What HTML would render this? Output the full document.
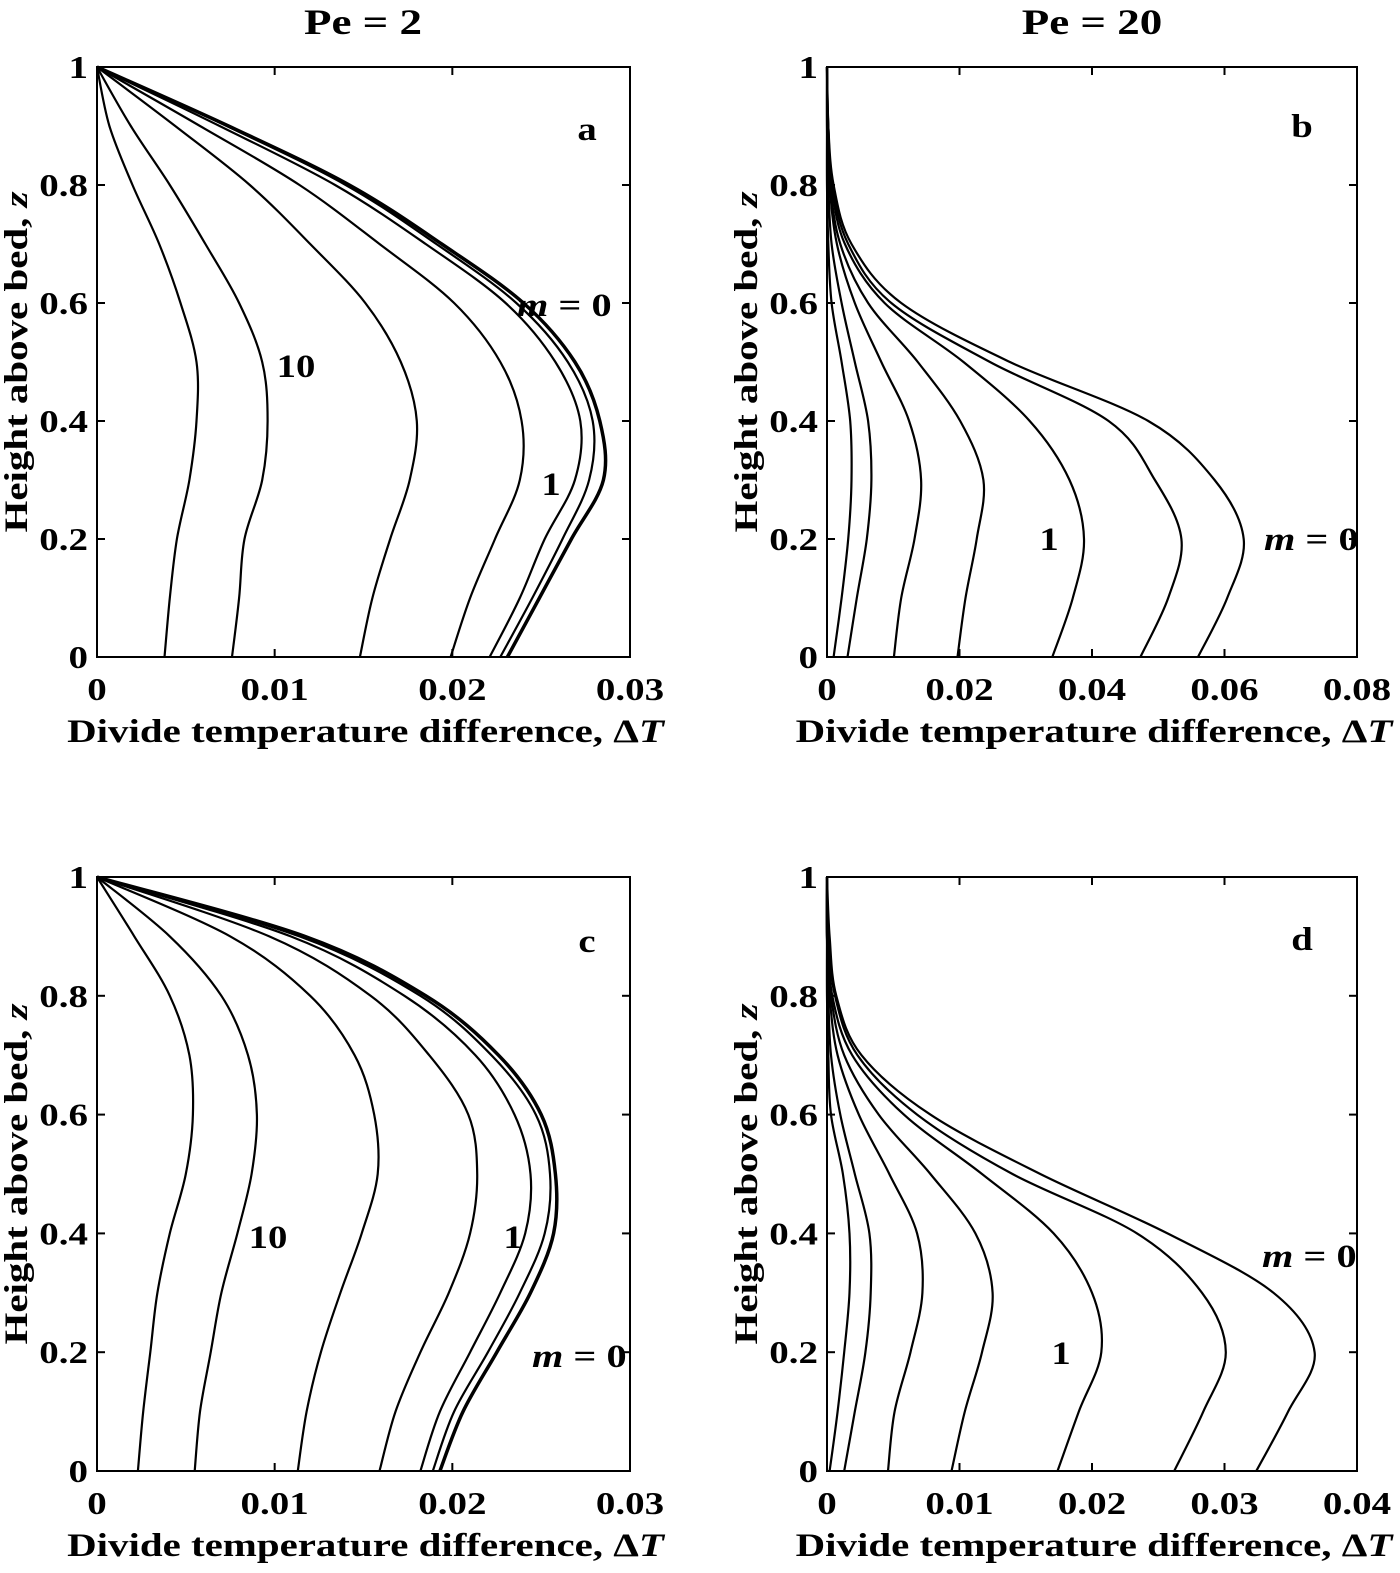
<!DOCTYPE html>
<html><head><meta charset="utf-8">
<style>
html,body{margin:0;padding:0;background:#fff;}
svg{display:block;font-family:"Liberation Serif",serif;font-weight:bold;}
</style></head>
<body>
<svg id="fig" width="1400" height="1573" viewBox="0 0 1400 1573" xmlns="http://www.w3.org/2000/svg">
<text transform="translate(363 34) scale(1.25 1)" font-size="36" text-anchor="middle">Pe = 2</text>
<text transform="translate(1092 34) scale(1.25 1)" font-size="36" text-anchor="middle">Pe = 20</text>
</svg>
<script>
const zLevels = [0,0.1,0.2,0.3,0.4,0.5,0.6,0.7,0.8,0.9,1.0];

const curvesA = [
 [0.0038,0.0041,0.0045,0.0052,0.0056,0.0056,0.0047,0.0035,0.0020,0.0007,0],
 [0.0076,0.0080,0.0083,0.0093,0.0096,0.0093,0.0080,0.0061,0.0041,0.0019,0],
 [0.0148,0.0155,0.0165,0.0176,0.0180,0.0171,0.0151,0.0120,0.0086,0.0044,0],
 [0.0199,0.0210,0.0224,0.0238,0.0239,0.0227,0.0201,0.0159,0.0114,0.0058,0],
 [0.0221,0.0238,0.0252,0.0269,0.0272,0.0258,0.0230,0.0185,0.0134,0.0069,0],
 [0.0227,0.0245,0.0262,0.0277,0.0279,0.0265,0.0236,0.0191,0.0140,0.0073,0],
 [0.0231,0.0249,0.0267,0.0285,0.0283,0.0269,0.0240,0.0194,0.0142,0.0074,0]
];
const curvesB = [
 [0.0010,0.0022,0.0032,0.0037,0.0035,0.0022,0.0007,0.0002,0,0,0],
 [0.0031,0.0045,0.0060,0.0067,0.0062,0.0042,0.0022,0.0007,0.0002,0,0],
 [0.0101,0.0112,0.0132,0.0142,0.0124,0.0082,0.0042,0.0015,0.0004,0.0001,0],
 [0.0197,0.0209,0.0226,0.0236,0.0201,0.0137,0.0062,0.0020,0.0005,0.0001,0],
 [0.0340,0.0371,0.0388,0.0366,0.0306,0.0206,0.0087,0.0027,0.0007,0.0002,0],
 [0.0473,0.0515,0.0535,0.0495,0.0425,0.0246,0.0097,0.0032,0.0008,0.0002,0],
 [0.0560,0.0604,0.0629,0.0585,0.0485,0.0276,0.0112,0.0037,0.0010,0.0002,0]
];
const curvesC = [
 [0.0023,0.0026,0.0030,0.0034,0.0041,0.0050,0.0054,0.0052,0.0041,0.0021,0],
 [0.0055,0.0058,0.0064,0.0070,0.0079,0.0087,0.0090,0.0085,0.0070,0.0041,0],
 [0.0113,0.0118,0.0126,0.0137,0.0149,0.0158,0.0156,0.0145,0.0120,0.0075,0],
 [0.0159,0.0168,0.0182,0.0198,0.0210,0.0214,0.0209,0.0187,0.0154,0.0097,0],
 [0.0182,0.0193,0.0210,0.0227,0.0241,0.0244,0.0235,0.0213,0.0173,0.0109,0],
 [0.0189,0.0201,0.0220,0.0238,0.0252,0.0255,0.0247,0.0222,0.0182,0.0114,0],
 [0.0193,0.0206,0.0225,0.0244,0.0257,0.0258,0.0250,0.0226,0.0185,0.0117,0]
];
const curvesD = [
 [0.0002,0.0008,0.0013,0.0017,0.0017,0.0012,0.0003,0.0001,0,0,0],
 [0.0013,0.0021,0.0029,0.0033,0.0032,0.0021,0.0010,0.0003,0.0001,0,0],
 [0.0046,0.0051,0.0063,0.0072,0.0068,0.0047,0.0024,0.0008,0.0002,0,0],
 [0.0094,0.0104,0.0117,0.0125,0.0112,0.0078,0.0039,0.0013,0.0003,0,0],
 [0.0174,0.0190,0.0207,0.0200,0.0171,0.0117,0.0058,0.0019,0.0004,0.0001,0],
 [0.0262,0.0284,0.0301,0.0283,0.0234,0.0140,0.0068,0.0023,0.0006,0.0001,0],
 [0.0324,0.0348,0.0368,0.0337,0.0257,0.0161,0.0078,0.0026,0.0007,0.0002,0]
];
const xTicksA = [0,0.01,0.02,0.03], xLabelsA = ["0","0.01","0.02","0.03"];
const xTicksB = [0,0.02,0.04,0.06,0.08], xLabelsB = ["0","0.02","0.04","0.06","0.08"];
const xTicksD = [0,0.01,0.02,0.03,0.04], xLabelsD = ["0","0.01","0.02","0.03","0.04"];
const yTicks = [0,0.2,0.4,0.6,0.8,1], yLabels = ["0","0.2","0.4","0.6","0.8","1"];

const NS="http://www.w3.org/2000/svg";
const svg=document.getElementById('fig');
function mk(tag,attrs,parent){const e=document.createElementNS(NS,tag);for(const k in attrs)e.setAttribute(k,attrs[k]);(parent||svg).appendChild(e);return e;}
function txt(parent,x,y,size,anchor,sx,rot){
  return mk('text',{x:0,y:0,'font-size':size,'text-anchor':anchor,transform:'translate('+x+' '+y+') rotate('+(rot||0)+') scale('+sx+' 1.05)'},parent);
}

const panels=[
 {id:'a',L:97,R:630,T:67,B:657,xmax:0.03,curves:curvesA,xt:xTicksA,xl:xLabelsA,
  labels:[['a',587,140],['10',296,377],['1',551,495]],m0:[517,316]},
 {id:'b',L:827,R:1357,T:67,B:657,xmax:0.08,curves:curvesB,xt:xTicksB,xl:xLabelsB,
  labels:[['b',1302,137],['1',1049,550]],m0:[1264,550]},
 {id:'c',L:97,R:630,T:877,B:1471,xmax:0.03,curves:curvesC,xt:xTicksA,xl:xLabelsA,
  labels:[['c',587,952],['10',268,1248],['1',513,1248]],m0:[532,1367]},
 {id:'d',L:827,R:1357,T:877,B:1471,xmax:0.04,curves:curvesD,xt:xTicksD,xl:xLabelsD,
  labels:[['d',1302,950],['1',1061,1364]],m0:[1262,1267]}
];

function spline(pts){
  let d='M'+pts[0][0].toFixed(1)+','+pts[0][1].toFixed(1);
  for(let i=0;i<pts.length-1;i++){
    const p0=pts[i-1]||pts[i],p1=pts[i],p2=pts[i+1],p3=pts[i+2]||pts[i+1];
    const c1=[p1[0]+(p2[0]-p0[0])/6,p1[1]+(p2[1]-p0[1])/6];
    const c2=[p2[0]-(p3[0]-p1[0])/6,p2[1]-(p3[1]-p1[1])/6];
    d+=' C'+c1[0].toFixed(1)+','+c1[1].toFixed(1)+' '+c2[0].toFixed(1)+','+c2[1].toFixed(1)+' '+p2[0].toFixed(1)+','+p2[1].toFixed(1);
  }
  return d;
}

panels.forEach(p=>{
  const g=mk('g',{});
  
  
  const sx=v=>p.L+v/p.xmax*(p.R-p.L);
  const sy=z=>p.B-z*(p.B-p.T);
  const box=mk('rect',{x:p.L,y:p.T,width:p.R-p.L,height:p.B-p.T,fill:'none',stroke:'#000','stroke-width':2},g);
  
  
  p.xt.forEach((t,i)=>{
    const x=sx(t);
    mk('line',{x1:x,y1:p.B,x2:x,y2:p.B-8,stroke:'#000','stroke-width':2},g);
    mk('line',{x1:x,y1:p.T,x2:x,y2:p.T+8,stroke:'#000','stroke-width':2},g);
    const tx=txt(g,x,p.B+43,30,'middle',1.3);
    tx.textContent=p.xl[i];
    
    
  });
  yTicks.forEach((t,i)=>{
    const y=sy(t);
    mk('line',{x1:p.L,y1:y,x2:p.L+8,y2:y,stroke:'#000','stroke-width':2},g);
    mk('line',{x1:p.R,y1:y,x2:p.R-8,y2:y,stroke:'#000','stroke-width':2},g);
    const ty=txt(g,p.L-9,y+11,30,'end',1.3);
    ty.textContent=yLabels[i];
    
    
  });
  p.curves.forEach((c,ci)=>{
    const pts=c.map((v,k)=>[sx(v),sy(zLevels[k])]);
    const last=ci===p.curves.length-1;
    const path=mk('path',{d:spline(pts),fill:'none',stroke:'#000','stroke-width':(last&&(p.id==='a'||p.id==='c'))?3.5:2.2},g);
    
    
  });
  p.labels.forEach(l=>{
    const t=txt(g,l[1],l[2],31,'middle',1.25);
    t.textContent=l[0];
    
    
  });
  const m=txt(g,p.m0[0],p.m0[1],31,'start',1.3);
  m.innerHTML='<tspan font-style="italic">m</tspan> = 0';
  
  
  const xt=txt(g,(p.L+p.R)/2+2,p.B+85,31,'middle',1.32);
  xt.innerHTML='Divide temperature difference,  Δ<tspan font-style="italic">T</tspan>';
  
  
  const cy=(p.T+p.B)/2, cx=p.L-70;
  const yt=txt(g,cx,cy,31,'middle',1.32,-90);
  yt.innerHTML='Height above bed,  <tspan font-style="italic">z</tspan>';
  
  
});
</script>
</body></html>
